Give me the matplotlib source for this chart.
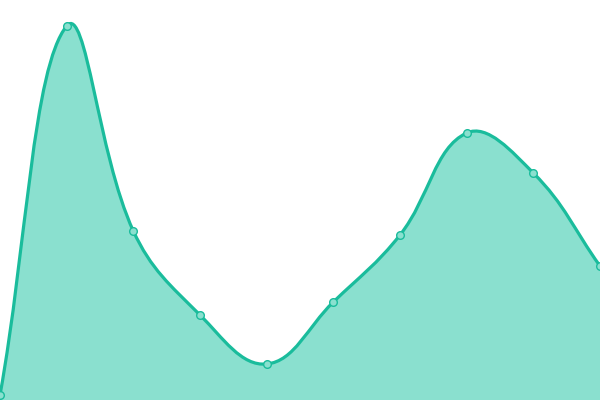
import numpy as np
import matplotlib
matplotlib.use("Agg")
import matplotlib.pyplot as plt
from matplotlib.path import Path
from matplotlib.patches import PathPatch

labels = ["A", "B", "C", "D", "E", "F", "G", "H", "I", "J"]
values = [5, 374, 169, 85, 36, 98, 165, 267, 227, 134]

line_color = "#1abc9c"
fill_color = "#8ae0cf"
tension = 0.4

fig = plt.figure(figsize=(6, 4), dpi=100)
ax = fig.add_axes([0, 0, 1, 1])
ax.set_xlim(0, len(values) - 1)
ax.set_ylim(0, 400)
ax.axis("off")

x = np.arange(len(values))
pts = ax.transData.transform(np.column_stack([x, values]))


def spline_cps(prev, curr, nxt, t):
    d01 = np.hypot(*(curr - prev))
    d12 = np.hypot(*(nxt - curr))
    tot = d01 + d12
    s01 = d01 / tot if tot else 0
    s12 = d12 / tot if tot else 0
    fa = t * s01
    fb = t * s12
    return curr - fa * (nxt - prev), curr + fb * (nxt - prev)


n = len(pts)
cp_in = []
cp_out = []
for i in range(n):
    prev = pts[i - 1] if i > 0 else pts[i]
    nxt = pts[i + 1] if i < n - 1 else pts[i]
    a, b = spline_cps(prev, pts[i], nxt, tension)
    cp_in.append(a)
    cp_out.append(b)

verts = [pts[0]]
codes = [Path.MOVETO]
for i in range(1, n):
    verts += [cp_out[i - 1], cp_in[i], pts[i]]
    codes += [Path.CURVE4] * 3

inv = ax.transData.inverted()
curve = inv.transform(np.array(verts))

line_path = Path(curve, codes)
fill_verts = np.vstack([curve, [[x[-1], 0], [x[0], 0], curve[0]]])
fill_codes = codes + [Path.LINETO, Path.LINETO, Path.CLOSEPOLY]
fill_path = Path(fill_verts, fill_codes)

ax.add_patch(PathPatch(fill_path, facecolor=fill_color, edgecolor="none"))
ax.add_patch(PathPatch(line_path, facecolor="none", edgecolor=line_color,
                       linewidth=2.3, capstyle="round", joinstyle="round"))
ax.plot(x, values, "o", markersize=5.5, markerfacecolor=fill_color,
        markeredgecolor=line_color, markeredgewidth=1.0, zorder=5)

fig.savefig("out.png", dpi=100)
